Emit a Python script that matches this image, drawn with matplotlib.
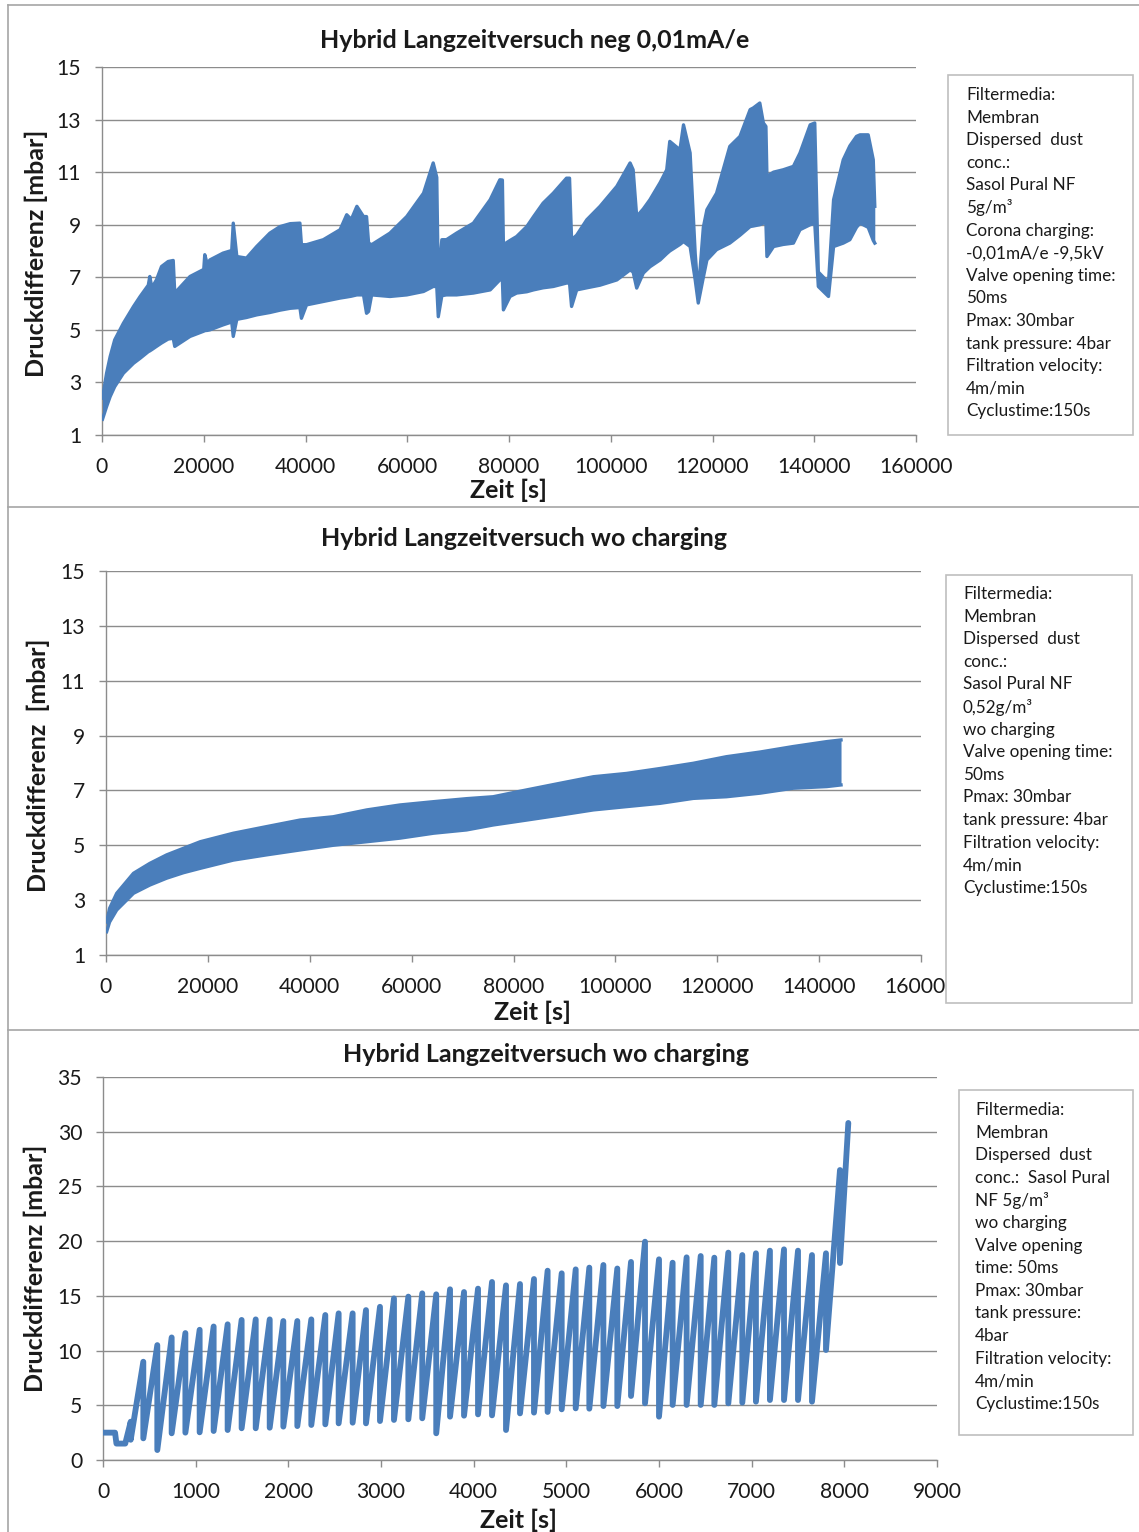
import matplotlib
matplotlib.use("Agg")
import matplotlib.pyplot as plt
from matplotlib.patches import Rectangle
from matplotlib.lines import Line2D

plt.rcParams['font.family'] = ['Lato', 'DejaVu Sans']

# ---------------------------------------------------------------------------
# Data
# ---------------------------------------------------------------------------
# Run 1: corona charging, band of the pulse-cleaning oscillation (lower / upper envelope)
t1 = [100, 900, 1600, 2500, 4200, 6200, 7500, 9100, 9400, 9800, 10700, 11700, 13000,
      14000, 14300, 17300, 20000, 20200, 20700, 21200, 23800, 25500, 25800, 26500,
      28400, 30400, 33000, 35000, 37000, 38900, 39200, 40200, 43500, 46800, 48100,
      49000, 50100, 51400, 52000, 52400, 53000, 56600, 59900, 63200, 65100, 65800,
      66100, 66800, 67700, 69700, 73000, 76300, 78200, 78700, 78900, 80200, 81500,
      83500, 84800, 86700, 88700, 91300, 91900, 92300, 93300, 95300, 97900, 101200,
      103800, 104400, 105100, 106400, 107700, 109700, 111000, 111600, 113600, 114300,
      115600, 116600, 117200, 118200, 118900, 120800, 123400, 125400, 127400, 128000,
      129300, 130000, 130500, 130700, 132000, 133900, 135900, 137200, 139200, 140100,
      140800, 142800, 143800, 145700, 147000, 148300, 149000, 150600, 151600, 151900]
lo1 = [1.60, 2.08, 2.46, 2.84, 3.35, 3.73, 3.92, 4.17, 4.20, 4.25, 4.37, 4.50, 4.65,
       4.68, 4.37, 4.75, 4.95, 4.97, 4.98, 5.00, 5.19, 5.30, 4.75, 5.40,
       5.47, 5.57, 5.66, 5.75, 5.82, 5.85, 5.44, 5.95, 6.08, 6.21, 6.25,
       6.28, 6.33, 6.33, 5.63, 5.70, 6.33, 6.27, 6.33, 6.46, 6.65, 6.65,
       5.50, 6.30, 6.33, 6.33, 6.40, 6.52, 6.90, 6.90, 5.76, 6.27, 6.40,
       6.45, 6.52, 6.60, 6.65, 6.78, 6.78, 5.89, 6.52, 6.60, 6.70, 6.90,
       7.28, 7.20, 6.59, 7.16, 7.40, 7.66, 7.90, 8.00, 8.25, 8.36,
       8.17, 6.90, 6.02, 7.00, 7.66, 8.05, 8.30, 8.60, 8.93, 8.95,
       9.00, 9.06, 9.06, 7.79, 8.17, 8.25, 8.30, 8.81, 9.00, 9.06,
       6.65, 6.27, 8.17, 8.30, 8.43, 8.90, 9.06, 8.90, 8.40, 8.30]
hi1 = [2.40, 3.35, 3.98, 4.62, 5.25, 5.89, 6.27, 6.70, 7.03, 6.60, 6.90, 7.41, 7.60,
       7.64, 6.40, 7.03, 7.30, 7.86, 7.50, 7.66, 7.92, 8.02, 9.06, 7.79,
       7.73, 8.17, 8.68, 8.93, 9.04, 9.06, 8.24, 8.24, 8.43, 8.81, 9.38,
       9.20, 9.70, 9.31, 9.31, 8.30, 8.24, 8.68, 9.31, 10.20, 11.35, 10.80,
       6.80, 8.43, 8.43, 8.68, 9.06, 9.95, 10.71, 10.70, 8.24, 8.40, 8.55,
       8.93, 9.30, 9.82, 10.20, 10.77, 10.77, 8.43, 8.60, 9.19, 9.70, 10.46,
       11.35, 11.09, 9.31, 9.60, 9.95, 10.60, 11.09, 12.17, 11.85, 12.80,
       11.73, 7.90, 6.40, 8.90, 9.57, 10.20, 11.98, 12.36, 13.38, 13.44,
       13.63, 12.87, 12.74, 10.84, 11.00, 11.09, 11.22, 11.73, 12.80, 12.87,
       7.20, 6.80, 9.95, 11.47, 12.00, 12.36, 12.42, 12.42, 11.47, 9.70]

# Run 2: without charging, 0.52 g/m3
t2 = [130, 700, 2100, 5400, 8600, 11900, 15200, 18500, 25000, 31500, 38100, 44600,
      51200, 57700, 64300, 70800, 76000, 82600, 89100, 95700, 102200, 108800, 115300,
      121800, 128400, 134900, 141500, 144300]
lo2 = [1.85, 2.20, 2.64, 3.25, 3.55, 3.80, 4.00, 4.16, 4.46, 4.65, 4.83, 5.00,
       5.13, 5.26, 5.44, 5.56, 5.74, 5.92, 6.10, 6.29, 6.41, 6.53, 6.71,
       6.77, 6.90, 7.08, 7.14, 7.20]
hi2 = [2.20, 2.70, 3.25, 3.98, 4.34, 4.65, 4.89, 5.13, 5.44, 5.68, 5.92, 6.04,
       6.29, 6.47, 6.59, 6.70, 6.77, 7.02, 7.26, 7.50, 7.62, 7.80, 7.99,
       8.23, 8.40, 8.60, 8.78, 8.84]

# Run 3: without charging, 5 g/m3 -- start-up phase, then one point per
# cleaning pulse: pressure just before the pulse and just after it
lead_t3 = [0, 130, 145, 240]
lead_p3 = [2.5, 2.5, 1.5, 1.5]
pulse_t3 = [299, 435, 586, 741, 889, 1043, 1194, 1345, 1496, 1648, 1799, 1946, 2097,
            2248, 2399, 2543, 2694, 2838, 2989, 3140, 3295, 3445, 3596, 3745, 3896,
            4047, 4198, 4349, 4500, 4651, 4798, 4950, 5101, 5248, 5400, 5550, 5698,
            5849, 6000, 6147, 6298, 6450, 6597, 6748, 6899, 7046, 7197, 7349, 7500,
            7651, 7802, 7953, 8043]
peak_p3 = [3.5, 8.98, 10.5, 11.2, 11.6, 11.9, 12.2, 12.4, 12.8, 12.85, 12.85, 12.7,
           12.7, 12.85, 13.25, 13.4, 13.4, 13.7, 14.0, 14.77, 14.93, 15.23, 15.14,
           15.6, 15.35, 15.66, 16.27, 15.96, 16.08, 16.54, 17.3, 17.06, 17.42, 17.58,
           17.82, 17.5, 18.1, 19.95, 18.34, 18.03, 18.52, 18.64, 18.49, 18.95, 18.73,
           18.89, 19.13, 19.25, 19.13, 18.73, 18.89, 26.5, 30.8]
after_p3 = [1.85, 1.98, 0.91, 2.44, 2.5, 2.53, 2.65, 2.74, 2.9, 2.9, 2.95, 3.05,
            3.1, 3.2, 3.26, 3.35, 3.41, 3.35, 3.56, 3.66, 3.72, 3.81, 2.44, 3.96,
            4.05, 4.17, 4.08, 2.74, 4.26, 4.33, 4.39, 4.63, 4.72, 4.69, 4.93, 4.93,
            5.85, 5.18, 3.96, 5.03, 5.03, 5.03, 5.03, 5.18, 5.24, 5.33, 5.48, 5.48,
            5.48, 5.33, 10.05, 18.0]

titles = ["Hybrid Langzeitversuch neg 0,01mA/e",
          "Hybrid Langzeitversuch wo charging",
          "Hybrid Langzeitversuch wo charging"]
ylabels = ["Druckdifferenz [mbar]", "Druckdifferenz  [mbar]", "Druckdifferenz [mbar]"]
xlabel = "Zeit [s]"

notes1 = ["Filtermedia:", "Membran", "Dispersed  dust", "conc.:", "Sasol Pural NF",
          "5g/m\u00b3", "Corona charging:", "-0,01mA/e -9,5kV", "Valve opening time:",
          "50ms", "Pmax: 30mbar", "tank pressure: 4bar", "Filtration velocity:",
          "4m/min", "Cyclustime:150s"]
notes2 = ["Filtermedia:", "Membran", "Dispersed  dust", "conc.:", "Sasol Pural NF",
          "0,52g/m\u00b3", "wo charging", "Valve opening time:", "50ms", "Pmax: 30mbar",
          "tank pressure: 4bar", "Filtration velocity:", "4m/min", "Cyclustime:150s"]
notes3 = ["Filtermedia:", "Membran", "Dispersed  dust", "conc.:  Sasol Pural",
          "NF 5g/m\u00b3", "wo charging", "Valve opening", "time: 50ms", "Pmax: 30mbar",
          "tank pressure:", "4bar", "Filtration velocity:", "4m/min", "Cyclustime:150s"]

# ---------------------------------------------------------------------------
# Figure
# ---------------------------------------------------------------------------
W, H = 1139, 1532
fig = plt.figure(figsize=(W / 100, H / 100), dpi=100)
fig.patch.set_facecolor("white")

BLUE = "#4a7ebb"
GRID = "#8c8c8c"
FRAME = "#a6a6a6"
BOXEDGE = "#bfbfbf"
INK = "#1a1a1a"


def fx(px):
    return px / W


def fy(py):
    return 1 - py / H


def make_axes(left, top, right, bottom):
    ax = fig.add_axes([fx(left), fy(bottom), (right - left) / W, (bottom - top) / H])
    ax.set_facecolor("none")
    for s in ("top", "right"):
        ax.spines[s].set_visible(False)
    for s in ("left", "bottom"):
        ax.spines[s].set_color(GRID)
        ax.spines[s].set_linewidth(1.0)
    ax.grid(axis="y", color=GRID, linewidth=1.0)
    ax.set_axisbelow(True)
    ax.tick_params(direction="out", length=5, width=1, color=GRID,
                   labelsize=15.2, labelcolor=INK)
    ax.tick_params(axis="x", pad=11)
    ax.tick_params(axis="y", pad=10)
    return ax


def note_box(left, top, right, bottom, lines, text_x, first_y, step):
    fig.add_artist(Rectangle((fx(left), fy(bottom)), (right - left) / W, (bottom - top) / H,
                             transform=fig.transFigure, facecolor="white",
                             edgecolor=BOXEDGE, linewidth=1.2, zorder=10))
    for i, s in enumerate(lines):
        fig.text(fx(text_x), fy(first_y + i * step), s, fontsize=12.3, color=INK,
                 ha="left", va="center", zorder=11)


# Panel frames
for seg in [((8, 5), (1139, 5)), ((8, 5), (8, 1532)),
            ((8, 507), (1139, 507)), ((8, 1030), (1139, 1030))]:
    (x0, y0), (x1, y1) = seg
    fig.add_artist(Line2D([fx(x0), fx(x1)], [fy(y0), fy(y1)], color=FRAME,
                          linewidth=1.2, transform=fig.transFigure))

# --- Panel 1 ---------------------------------------------------------------
ax1 = make_axes(102, 67, 916, 435)
ax1.fill_between(t1, lo1, hi1, color=BLUE, linewidth=0, zorder=3)
ax1.plot(t1, lo1, color=BLUE, linewidth=2.4, zorder=3, solid_joinstyle="round")
ax1.plot(t1, hi1, color=BLUE, linewidth=2.4, zorder=3, solid_joinstyle="round")
ax1.set_xlim(0, 160000)
ax1.set_ylim(1, 15)
ax1.set_xticks(range(0, 160001, 20000))
ax1.set_yticks(range(1, 16, 2))

# --- Panel 2 ---------------------------------------------------------------
ax2 = make_axes(106, 571, 921, 955)
ax2.fill_between(t2, lo2, hi2, color=BLUE, linewidth=0, zorder=3)
ax2.plot(t2, lo2, color=BLUE, linewidth=2.4, zorder=3)
ax2.plot(t2, hi2, color=BLUE, linewidth=2.4, zorder=3)
ax2.set_xlim(0, 160000)
ax2.set_ylim(1, 15)
ax2.set_xticks(range(0, 160001, 20000))
ax2.set_yticks(range(1, 16, 2))

# --- Panel 3 ---------------------------------------------------------------
ax3 = make_axes(103, 1077, 937, 1460)
t3 = list(lead_t3)
p3 = list(lead_p3)
for i, t in enumerate(pulse_t3):
    t3.append(t)
    p3.append(peak_p3[i])
    if i < len(after_p3):
        t3.append(t)
        p3.append(after_p3[i])
ax3.plot(t3, p3, color=BLUE, linewidth=4.2, zorder=3,
         solid_joinstyle="round", solid_capstyle="round")
ax3.set_xlim(0, 9000)
ax3.set_ylim(0, 35)
ax3.set_xticks(range(0, 9001, 1000))
ax3.set_yticks(range(0, 36, 5))

# Titles and axis labels
for (cx, cy), s in zip([(535, 41), (524, 538), (546, 1054)], titles):
    fig.text(fx(cx), fy(cy), s, fontsize=18, fontweight="bold", color=INK,
             ha="center", va="center")
for cx, cy in [(509, 490), (532, 1012), (519, 1520)]:
    fig.text(fx(cx), fy(cy), xlabel, fontsize=18, fontweight="bold", color=INK,
             ha="center", va="center")
for (cx, cy), s in zip([(36, 253), (38, 765), (35, 1268)], ylabels):
    fig.text(fx(cx), fy(cy), s, fontsize=18, fontweight="bold", color=INK,
             ha="center", va="center", rotation=90)

# Test condition notes
note_box(948, 75, 1133, 435, notes1, 966, 95, 22.6)
note_box(946, 575, 1132, 1003, notes2, 963, 594, 22.6)
note_box(959, 1090, 1133, 1435, notes3, 975, 1110, 22.6)

fig.savefig("out.png", dpi=100, facecolor="white")
